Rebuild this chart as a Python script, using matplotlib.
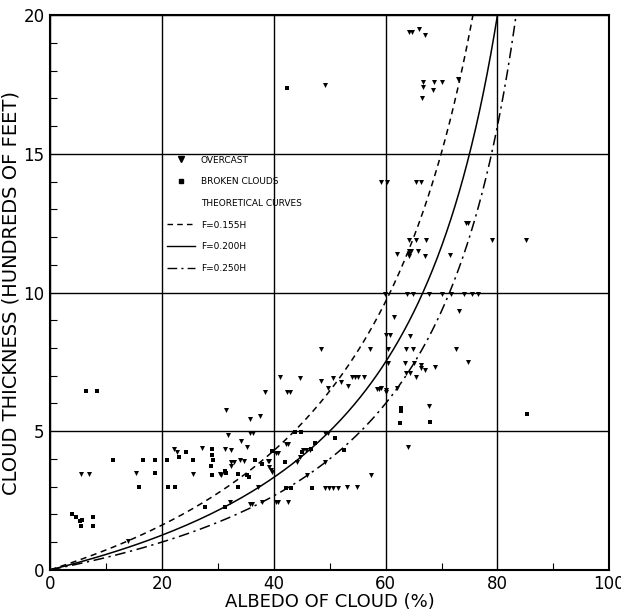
import numpy as np
import matplotlib.pyplot as plt
from matplotlib.lines import Line2D

# Overcast observations (albedo %, thickness in hundreds of feet)
overcast_x = [64.2, 64.7, 65.9, 67.1, 66.7, 68.6, 70.1, 66.7, 68.4, 66.5, 73.0,
              49.2, 59.2, 60.2, 65.5, 66.4, 74.3, 74.7,
              64.2, 65.5, 67.3, 79.0, 85.2,
              62.0, 64.2, 64.6, 64.2, 64.1, 65.8, 67.1, 71.6,
              59.9, 63.9, 64.9, 67.7, 70.0, 71.7, 74.1, 75.4, 76.6,
              73.2, 61.5, 60.1, 60.7, 64.4,
              60.4, 63.6, 64.9, 72.5, 48.4, 57.2,
              60.4, 63.4, 65.1, 66.4, 66.4, 67.0, 68.9, 74.8,
              63.7, 64.3, 65.5, 59.2, 60.0, 62.0, 67.7, 64.0,
              44.6, 48.5, 50.6, 52.1, 53.2, 54.0, 54.6, 55.0, 56.1,
              58.5, 58.9, 60.0, 49.7,
              49.1, 49.7, 49.1, 46.0, 57.4,
              49.1, 49.9, 50.6, 51.4, 53.1, 54.9,
              41.1, 38.5, 42.3, 42.9, 31.4, 35.8, 37.6,
              31.8, 35.7, 36.2,
              27.1, 31.3, 32.3, 34.2, 35.2, 42.1, 42.5, 40.3, 40.7, 45.2, 45.7, 46.4,
              44.6, 44.2,
              32.3, 32.9, 32.4, 34.0, 34.6,
              38.9, 39.2, 39.2, 39.5, 39.7,
              30.5, 37.1,
              32.1, 35.7, 36.1, 37.8, 40.3, 40.7, 42.5,
              22.2, 22.7, 15.4, 25.6, 30.4,
              5.5, 6.9, 13.9]
overcast_y = [19.4, 19.4, 19.5, 19.3, 17.6, 17.6, 17.6, 17.4, 17.3, 17.0, 17.7,
              17.5, 14.0, 14.0, 14.0, 14.0, 12.5, 12.5,
              11.9, 11.9, 11.9, 11.9, 11.9,
              11.4, 11.5, 11.5, 11.4, 11.3, 11.5, 11.3, 11.35,
              9.95, 9.95, 9.95, 9.95, 9.95, 9.95, 9.95, 9.95, 9.95,
              9.34, 9.13, 8.47, 8.47, 8.43,
              7.95, 7.95, 7.95, 7.95, 7.95, 7.95,
              7.45, 7.45, 7.45, 7.39, 7.27, 7.21, 7.33, 7.51,
              7.09, 7.09, 6.94, 6.55, 6.43, 6.55, 5.91, 4.42,
              6.93, 6.82, 6.93, 6.76, 6.63, 6.97, 6.97, 6.97, 6.97,
              6.52, 6.52, 6.49, 6.57,
              4.95, 4.95, 3.90, 3.42, 3.42,
              2.94, 2.94, 2.94, 2.94, 2.97, 2.97,
              6.94, 6.43, 6.43, 6.43, 5.77, 5.44, 5.53,
              4.86, 4.93, 4.93,
              4.38, 4.35, 4.32, 4.66, 4.44, 4.54, 4.54, 4.23, 4.23, 4.32, 4.32, 4.32,
              4.06, 3.90,
              3.87, 3.90, 3.75, 3.96, 3.94,
              3.94, 3.94, 3.72, 3.60, 3.51,
              3.42, 2.97,
              2.46, 2.37, 2.37, 2.44, 2.44, 2.44, 2.44,
              4.36, 4.26, 3.48, 3.46, 3.46,
              3.46, 3.46, 1.02]

# Broken clouds observations
broken_x = [6.3, 8.3, 11.2, 16.5, 18.7, 20.8, 25.6, 24.3, 23.1,
            18.7, 15.9, 21.0, 22.4,
            29.0, 29.0, 29.1, 28.8, 28.9, 31.3, 31.4,
            33.5, 35.2, 35.5, 33.6, 42.1, 43.1, 46.9,
            27.6, 31.2, 36.6, 37.8, 42.0, 39.7,
            43.7, 44.9, 51.0, 45.1, 46.6, 47.4, 52.5,
            62.7, 62.7, 62.5, 68.0, 85.3,
            3.9, 4.6, 5.3, 5.7, 5.5, 7.6, 7.7, 42.3]
broken_y = [6.46, 6.46, 3.96, 3.96, 3.96, 3.96, 3.96, 4.24, 4.06,
            3.48, 2.98, 2.97, 2.97,
            4.35, 4.14, 3.96, 3.76, 3.42, 3.58, 3.50,
            3.46, 3.42, 3.36, 2.97, 2.94, 2.94, 2.94,
            2.28, 2.28, 3.96, 3.82, 3.90, 4.29,
            4.96, 4.96, 4.75, 4.26, 4.35, 4.57, 4.32,
            5.83, 5.71, 5.29, 5.34, 5.61,
            2.02, 1.90, 1.75, 1.80, 1.59, 1.90, 1.59, 17.36]

# theoretical curves: albedo = F/(1+F), F = k*H
f_coeffs = [0.155, 0.200, 0.250]
f_labels = ['F=0.155H', 'F=0.200H', 'F=0.250H']
f_styles = [(0, (4, 3)), '-', (0, (7, 3, 1.5, 3))]

fig = plt.figure(figsize=(6.21, 6.12), dpi=100)
ax = fig.add_axes([0.081, 0.069, 0.9, 0.906])

H = np.linspace(0, 20, 300)
for k, ls in zip(f_coeffs, f_styles):
    A = 100 * k * H / (1 + k * H)
    ax.plot(A, H, color='k', lw=1.1, linestyle=ls)

ax.scatter(overcast_x, overcast_y, marker='v', s=13, color='k', linewidths=0)
ax.scatter(broken_x, broken_y, marker='s', s=5, color='k', linewidths=0)

ax.set_xlim(0, 100)
ax.set_ylim(0, 20)
ax.set_xticks([0, 20, 40, 60, 80, 100])
ax.set_yticks([0, 5, 10, 15, 20])
ax.set_xticks([10, 30, 50, 70, 90], minor=True)
ax.set_yticks(np.arange(1, 20), minor=True)
ax.tick_params(which='major', length=0, labelsize=12, pad=4)
ax.tick_params(which='minor', direction='in', length=5, width=0.8)
ax.grid(True, which='major', color='k', lw=1.0)
for sp in ax.spines.values():
    sp.set_linewidth(1.5)

ax.set_xlabel('ALBEDO OF CLOUD (%)', fontsize=13, labelpad=0)
ax.set_ylabel('CLOUD THICKNESS (HUNDREDS OF FEET)', fontsize=14, labelpad=2)

handles = [Line2D([], [], marker='v', ls='none', color='k', ms=4),
           Line2D([], [], marker='s', ls='none', color='k', ms=2.5),
           Line2D([], [], ls='none')]
labels = ['OVERCAST', 'BROKEN CLOUDS', 'THEORETICAL CURVES']
for ls, lab in zip(f_styles, f_labels):
    handles.append(Line2D([], [], color='k', lw=1.0, linestyle=ls))
    labels.append(lab)
leg = ax.legend(handles, labels, loc='upper left', bbox_to_anchor=(0.2, 0.755),
                frameon=False, fontsize=6.5, labelspacing=1.4, handlelength=3.2,
                handletextpad=0.6, borderpad=0)

plt.savefig('out.png', dpi=100)
